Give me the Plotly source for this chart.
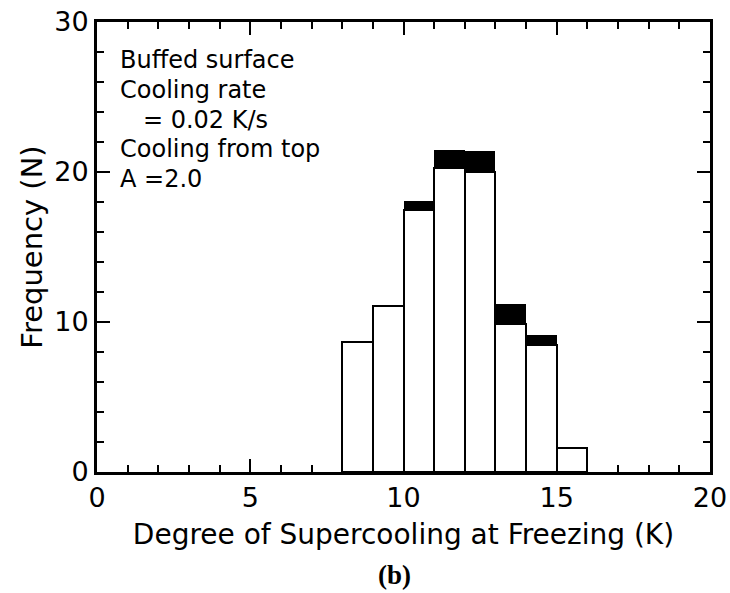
import plotly.graph_objects as go

# Histogram bins (left edges, width 1 K) and stacked counts
bin_left = [8, 9, 10, 11, 12, 13, 14, 15]
white_counts = [8.7, 11.1, 17.5, 20.3, 20.0, 9.9, 8.5, 1.6]
black_counts = [0, 0, 0.6, 1.2, 1.4, 1.3, 0.65, 0]

note_lines = ["Buffed surface", "Cooling rate", "   = 0.02 K/s", "Cooling from top", "A =2.0"]

FONT = "DejaVu Sans, Liberation Sans, sans-serif"

centers = [b + 0.5 for b in bin_left]

fig = go.Figure()
fig.add_trace(go.Bar(
    x=centers, y=white_counts, width=1,
    marker=dict(color="white", line=dict(color="black", width=2.5)),
    showlegend=False,
))
# black caps on top of the white bars (solid fill, no outline needed)
fig.add_trace(go.Bar(
    x=centers, y=black_counts, width=1,
    marker=dict(color="black", line=dict(width=0)),
    showlegend=False,
))

# text block in the upper left corner
for i, line in enumerate(note_lines):
    fig.add_annotation(
        text=line, xref="paper", yref="paper",
        x=0.035, y=0.915 - i * 0.066,
        xanchor="left", yanchor="middle", showarrow=False,
        font=dict(family=FONT, size=24, color="black"),
    )

# panel label
fig.add_annotation(
    text="<b>(b)</b>", xref="paper", yref="paper",
    x=0.485, y=-0.228, xanchor="center", yanchor="middle", showarrow=False,
    font=dict(family="Liberation Serif, Times New Roman, serif", size=27, color="black"),
)

axis_common = dict(
    showline=True, linecolor="black", linewidth=3, mirror="ticks",
    ticks="inside", tickcolor="black", tickwidth=2,
    showgrid=False, zeroline=False, automargin=False,
    tickfont=dict(family=FONT, size=27, color="black"),
)

fig.update_xaxes(
    range=[0, 20], dtick=5, ticklen=13,
    minor=dict(dtick=1, ticks="inside", ticklen=7, tickcolor="black", tickwidth=2),
    title=dict(text="Degree of Supercooling at Freezing (K)", standoff=12,
               font=dict(family=FONT, size=28, color="black")),
    **axis_common,
)
fig.update_yaxes(
    range=[0, 30], dtick=10, ticklen=13,
    minor=dict(dtick=2, ticks="inside", ticklen=7, tickcolor="black", tickwidth=2),
    title=dict(text="Frequency (N)", standoff=4,
               font=dict(family=FONT, size=29, color="black")),
    **axis_common,
)

fig.update_layout(
    width=730, height=593,
    margin=dict(l=97, r=20, t=22, b=121),
    barmode="stack", bargap=0,
    plot_bgcolor="white", paper_bgcolor="white",
)

# drop the default page margin so the figure sits at the window's corner
fig.write_html("out.html", config={"displayModeBar": False},
               post_script="document.body.style.margin = '0';")
